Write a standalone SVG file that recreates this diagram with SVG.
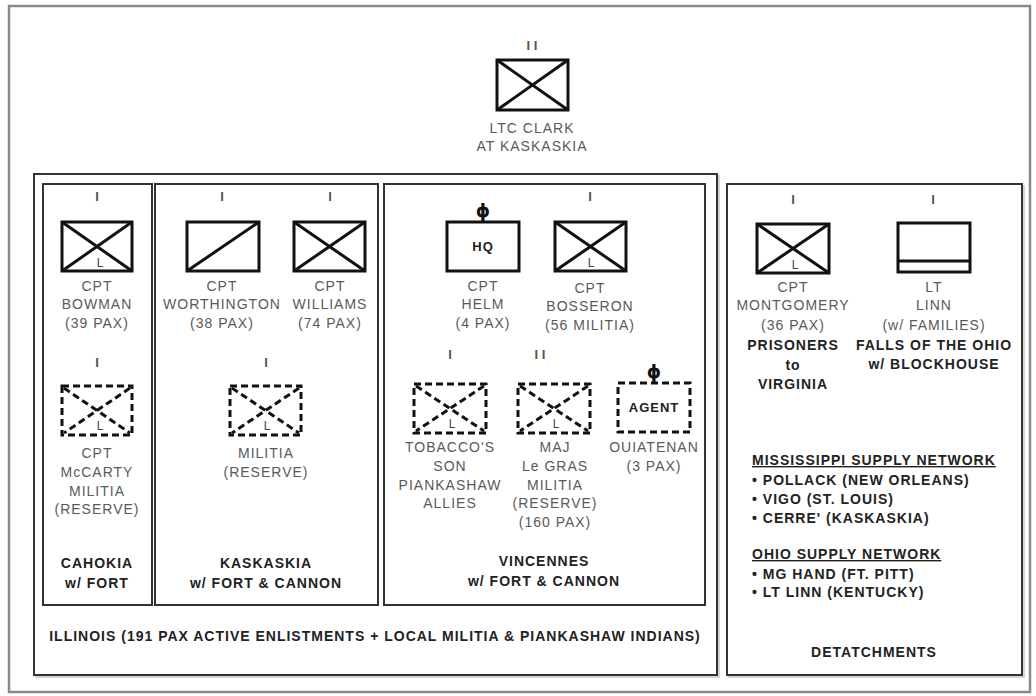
<svg xmlns="http://www.w3.org/2000/svg" width="1036" height="696" viewBox="0 0 1036 696">
<style>
.bg{fill:#fff}
.outer{fill:none;stroke:#8a8a8a;stroke-width:2.5}
.box{fill:#fff;stroke:#333;stroke-width:2}
.shadow{fill:none;stroke:#d4d4d4;stroke-width:2}
.sym{fill:none;stroke:#111;stroke-width:3}
.dsym{fill:none;stroke:#111;stroke-width:3;stroke-dasharray:7 4}
.t{font-family:"Liberation Sans",Arial,sans-serif;font-size:14px;fill:#5a5a5a;text-anchor:middle;letter-spacing:1px}
.b{font-family:"Liberation Sans",Arial,sans-serif;font-size:14px;fill:#222;font-weight:bold;text-anchor:middle;letter-spacing:1px}
.bl{font-family:"Liberation Sans",Arial,sans-serif;font-size:14px;fill:#222;font-weight:bold;letter-spacing:1px}
.u{text-decoration:underline}
.ech{font-family:"Liberation Sans",Arial,sans-serif;font-size:13px;fill:#555;text-anchor:middle;font-weight:bold}
.L{font-family:"Liberation Sans",Arial,sans-serif;font-size:12px;fill:#444;text-anchor:middle}
.phi{font-family:"DejaVu Sans",sans-serif;font-size:18px;font-weight:bold;fill:#111;text-anchor:middle}
</style>
<rect class="bg" x="0" y="0" width="1036" height="696"/>
<rect class="outer" x="9" y="6" width="1021" height="686"/>

<g id="containers">
<rect class="shadow" x="36" y="176" width="683" height="501"/>
<rect class="box" x="34" y="174" width="683" height="501"/>
<rect class="shadow" x="729" y="186" width="295" height="491"/>
<rect class="box" x="727" y="184" width="295" height="491"/>
<rect class="box" x="43" y="184" width="109" height="421"/>
<rect class="box" x="155" y="184" width="223" height="421"/>
<rect class="box" x="384" y="184" width="321" height="421"/>
</g>

<g id="clark">
<text class="ech" x="532" y="50">I I</text>
<rect class="sym" x="497" y="60" width="71" height="50"/>
<path class="sym" d="M497 60L568 110M568 60L497 110"/>
<text class="t" x="532" y="133">LTC CLARK</text>
<text class="t" x="532" y="151">AT KASKASKIA</text>
</g>

<g id="bowman">
<text class="ech" x="97" y="201">I</text>
<rect class="sym" x="62" y="222" width="70" height="49"/>
<path class="sym" d="M62 222L132 271M132 222L62 271"/>
<text class="L" x="100" y="267">L</text>
<text class="t" x="97" y="291">CPT</text>
<text class="t" x="97" y="309">BOWMAN</text>
<text class="t" x="97" y="328">(39 PAX)</text>
</g>

<g id="mccarty">
<text class="ech" x="97" y="367">I</text>
<rect class="dsym" x="62" y="386" width="70" height="49"/>
<path class="dsym" d="M64 388L130 433M130 388L64 433"/>
<text class="L" x="100" y="430">L</text>
<text class="t" x="97" y="458">CPT</text>
<text class="t" x="97" y="477">McCARTY</text>
<text class="t" x="97" y="496">MILITIA</text>
<text class="t" x="97" y="514">(RESERVE)</text>
</g>

<g id="cahokia-label">
<text class="b" x="97" y="568">CAHOKIA</text>
<text class="b" x="97" y="588">w/ FORT</text>
</g>

<g id="worthington">
<text class="ech" x="222" y="201">I</text>
<rect class="sym" x="187" y="222" width="72" height="49"/>
<path class="sym" d="M187 271L259 222"/>
<text class="t" x="222" y="291">CPT</text>
<text class="t" x="222" y="309">WORTHINGTON</text>
<text class="t" x="222" y="328">(38 PAX)</text>
</g>

<g id="williams">
<text class="ech" x="330" y="201">I</text>
<rect class="sym" x="294" y="222" width="71" height="49"/>
<path class="sym" d="M294 222L365 271M365 222L294 271"/>
<text class="t" x="330" y="291">CPT</text>
<text class="t" x="330" y="309">WILLIAMS</text>
<text class="t" x="330" y="328">(74 PAX)</text>
</g>

<g id="kaskaskia-militia">
<text class="ech" x="266" y="367">I</text>
<rect class="dsym" x="230" y="386" width="71" height="49"/>
<path class="dsym" d="M232 388L299 433M299 388L232 433"/>
<text class="L" x="267" y="430">L</text>
<text class="t" x="266" y="458">MILITIA</text>
<text class="t" x="266" y="477">(RESERVE)</text>
</g>

<g id="kaskaskia-label">
<text class="b" x="266" y="568">KASKASKIA</text>
<text class="b" x="266" y="588">w/ FORT &amp; CANNON</text>
</g>

<g id="helm">
<text class="phi" x="483" y="217">ɸ</text>
<rect class="sym" x="447" y="222" width="72" height="49"/>
<text class="b" x="483" y="251" style="font-size:13px">HQ</text>
<text class="t" x="483" y="291">CPT</text>
<text class="t" x="483" y="309">HELM</text>
<text class="t" x="483" y="328">(4 PAX)</text>
</g>

<g id="bosseron">
<text class="ech" x="590" y="201">I</text>
<rect class="sym" x="555" y="222" width="71" height="49"/>
<path class="sym" d="M555 222L626 271M626 222L555 271"/>
<text class="L" x="591" y="267">L</text>
<text class="t" x="590" y="293">CPT</text>
<text class="t" x="590" y="311">BOSSERON</text>
<text class="t" x="590" y="330">(56 MILITIA)</text>
</g>

<g id="tobacco">
<text class="ech" x="450" y="359">I</text>
<rect class="dsym" x="414" y="384" width="72" height="49"/>
<path class="dsym" d="M416 386L484 431M484 386L416 431"/>
<text class="L" x="452" y="428">L</text>
<text class="t" x="450" y="452">TOBACCO'S</text>
<text class="t" x="450" y="471">SON</text>
<text class="t" x="450" y="490">PIANKASHAW</text>
<text class="t" x="450" y="508">ALLIES</text>
</g>

<g id="legras">
<text class="ech" x="540" y="359">I I</text>
<rect class="dsym" x="518" y="384" width="72" height="49"/>
<path class="dsym" d="M520 386L588 431M588 386L520 431"/>
<text class="L" x="556" y="428">L</text>
<text class="t" x="555" y="452">MAJ</text>
<text class="t" x="555" y="471">Le GRAS</text>
<text class="t" x="555" y="490">MILITIA</text>
<text class="t" x="555" y="508">(RESERVE)</text>
<text class="t" x="555" y="527">(160 PAX)</text>
</g>

<g id="agent">
<text class="phi" x="654" y="378">ɸ</text>
<rect class="dsym" x="618" y="383" width="72" height="49"/>
<text class="b" x="654" y="412" style="font-size:13px">AGENT</text>
<text class="t" x="654" y="452">OUIATENAN</text>
<text class="t" x="654" y="471">(3 PAX)</text>
</g>

<g id="vincennes-label">
<text class="b" x="544" y="566">VINCENNES</text>
<text class="b" x="544" y="586">w/ FORT &amp; CANNON</text>
</g>

<g id="illinois-label">
<text class="b" x="375" y="641">ILLINOIS (191 PAX ACTIVE ENLISTMENTS + LOCAL MILITIA &amp; PIANKASHAW INDIANS)</text>
</g>

<g id="montgomery">
<text class="ech" x="793" y="204">I</text>
<rect class="sym" x="757" y="224" width="72" height="49"/>
<path class="sym" d="M757 224L829 273M829 224L757 273"/>
<text class="L" x="795" y="269">L</text>
<text class="t" x="793" y="292">CPT</text>
<text class="t" x="793" y="310">MONTGOMERY</text>
<text class="t" x="793" y="330">(36 PAX)</text>
<text class="b" x="793" y="350">PRISONERS</text>
<text class="b" x="793" y="370">to</text>
<text class="b" x="793" y="389">VIRGINIA</text>
</g>

<g id="linn">
<text class="ech" x="933" y="204">I</text>
<rect class="sym" x="898" y="223" width="72" height="49"/>
<path class="sym" d="M898 261L970 261"/>
<text class="t" x="934" y="292">LT</text>
<text class="t" x="934" y="310">LINN</text>
<text class="t" x="934" y="330">(w/ FAMILIES)</text>
<text class="b" x="934" y="350">FALLS OF THE OHIO</text>
<text class="b" x="934" y="369">w/ BLOCKHOUSE</text>
</g>

<g id="supply">
<text class="bl u" x="752" y="465">MISSISSIPPI SUPPLY NETWORK</text>
<text class="bl" x="752" y="485">• POLLACK (NEW ORLEANS)</text>
<text class="bl" x="752" y="504">• VIGO (ST. LOUIS)</text>
<text class="bl" x="752" y="523">• CERRE' (KASKASKIA)</text>
<text class="bl u" x="752" y="559">OHIO SUPPLY NETWORK</text>
<text class="bl" x="752" y="579">• MG HAND (FT. PITT)</text>
<text class="bl" x="752" y="597">• LT LINN (KENTUCKY)</text>
</g>

<g id="detachments-label">
<text class="b" x="874" y="657">DETATCHMENTS</text>
</g>

<g id="connectors"></g>
</svg>
